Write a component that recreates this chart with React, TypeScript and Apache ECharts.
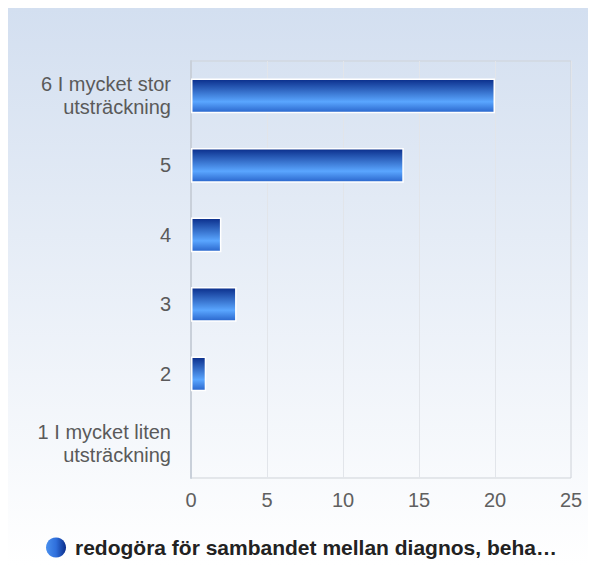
import React, { useEffect, useRef } from "react";
import * as echarts from "echarts";

const categories = [
  "1 I mycket liten\nutsträckning",
  "2",
  "3",
  "4",
  "5",
  "6 I mycket stor\nutsträckning",
];
const values = [0, 1, 3, 2, 14, 20];
const seriesName = "redogöra för sambandet mellan diagnos, beha…";
const xTicks = { min: 0, max: 25, interval: 5 };

export default function App() {
  const ref = useRef<HTMLDivElement>(null);
  useEffect(() => {
    const chart = echarts.init(ref.current!, null, { renderer: "svg" });
    const barGrad = new echarts.graphic.LinearGradient(0, 0, 0, 1, [
      { offset: 0, color: "#0a2d8a" },
      { offset: 0.68, color: "#5aa6ff" },
      { offset: 1, color: "#2a66cc" },
    ]);
    const legendGrad = new echarts.graphic.LinearGradient(0, 0, 1, 0, [
      { offset: 0, color: "#4a90ee" },
      { offset: 0.5, color: "#2f6fdc" },
      { offset: 1, color: "#0a2d8a" },
    ]);
    chart.setOption({
      animation: false,
      backgroundColor: new echarts.graphic.LinearGradient(0, 0, 0, 1, [
        { offset: 0, color: "#d3dff0" },
        { offset: 1, color: "#ffffff" },
      ]),
      textStyle: { fontFamily: "Liberation Sans, Arial, sans-serif" },
      grid: {
        left: 183,
        top: 53,
        right: 17,
        bottom: 87,
        show: true,
        borderColor: "#cfd3d8",
        borderWidth: 1,
        backgroundColor: "transparent",
      },
      legend: {
        bottom: 2,
        left: 33,
        padding: 5,
        icon: "circle",
        itemWidth: 20,
        itemHeight: 20,
        itemGap: 8,
        textStyle: { fontSize: 21, fontWeight: "bold", color: "#222", padding: [0, 0, 0, 4] },
        itemStyle: { color: legendGrad, borderWidth: 0 },
        data: [{ name: seriesName }],
      },
      xAxis: {
        type: "value",
        min: xTicks.min,
        max: xTicks.max,
        interval: xTicks.interval,
        axisLine: { show: false },
        axisTick: { show: false },
        axisLabel: { fontSize: 20, color: "#606060", margin: 12 },
        splitLine: { show: true, lineStyle: { color: "#e2e5ea", width: 1 } },
      },
      yAxis: {
        type: "category",
        data: categories,
        axisLine: { show: true, lineStyle: { color: "#c9d0da", width: 2 } },
        axisTick: { show: false },
        axisLabel: {
          fontSize: 20,
          color: "#5a5a5a",
          margin: 20,
          align: "right",
          lineHeight: 23,
        },
        splitLine: { show: false },
      },
      series: [
        {
          name: seriesName,
          type: "bar",
          data: values.map((v) =>
            v === 0 ? { value: v, itemStyle: { borderWidth: 0, opacity: 0 } } : v
          ),
          barCategoryGap: "50%",
          itemStyle: { color: barGrad, borderColor: "#ffffff", borderWidth: 1.5 },
        },
      ],
    });
    return () => chart.dispose();
  }, []);
  return <div ref={ref} style={{ width: 580, height: 557 }} />;
}
